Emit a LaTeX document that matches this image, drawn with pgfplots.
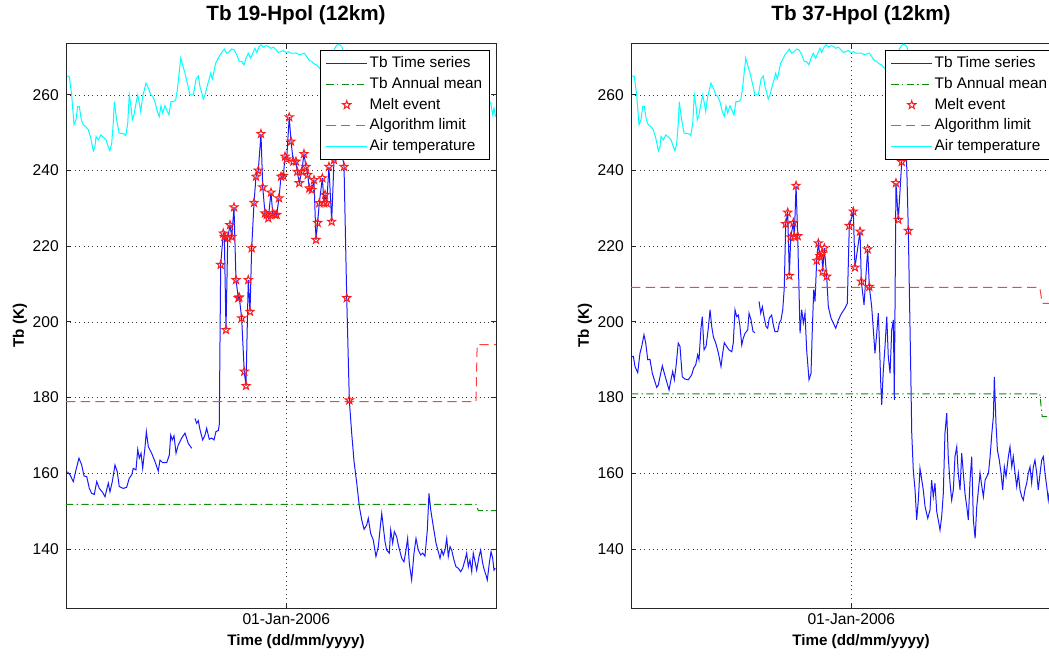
\documentclass[border=0pt]{standalone}
\usepackage{fontspec}
\setmainfont{Liberation Sans}
\usepackage{pgfplots}
\pgfplotsset{compat=1.18}

% five-pointed star outline used for melt events
\pgfdeclareplotmark{pentagram}{%
  \pgfpathmoveto{\pgfpointpolar{90}{\pgfplotmarksize}}%
  \pgfpathlineto{\pgfpointpolar{126}{0.4\pgfplotmarksize}}%
  \pgfpathlineto{\pgfpointpolar{162}{\pgfplotmarksize}}%
  \pgfpathlineto{\pgfpointpolar{198}{0.4\pgfplotmarksize}}%
  \pgfpathlineto{\pgfpointpolar{234}{\pgfplotmarksize}}%
  \pgfpathlineto{\pgfpointpolar{270}{0.4\pgfplotmarksize}}%
  \pgfpathlineto{\pgfpointpolar{306}{\pgfplotmarksize}}%
  \pgfpathlineto{\pgfpointpolar{342}{0.4\pgfplotmarksize}}%
  \pgfpathlineto{\pgfpointpolar{18}{\pgfplotmarksize}}%
  \pgfpathlineto{\pgfpointpolar{54}{0.4\pgfplotmarksize}}%
  \pgfpathclose\pgfusepathqstroke}

\definecolor{mgreen}{rgb}{0.05,0.55,0.05}
\definecolor{mblue}{rgb}{0.1,0.1,1}
\definecolor{mred}{rgb}{1,0.25,0.25}
\definecolor{mstar}{rgb}{1,0.1,0.1}
\definecolor{mcyan}{rgb}{0,1,1}
\newcommand\ticksize{\fontsize{11.7}{14}\selectfont}
\newcommand\titlesize{\fontsize{15.5}{18}\selectfont\bfseries}
\newcommand\labelsize{\fontsize{11.4}{14}\selectfont\bfseries}
\newcommand\legsize{\fontsize{11.5}{14}\selectfont}

% legend sample: a stroked segment in the given colour and dash
\newcommand\legline[2]{%
  \pgfsetstrokecolor{#1}\pgfsetlinewidth{0.9pt}#2%
  \pgfpathmoveto{\pgfpoint{0pt}{0pt}}\pgfpathlineto{\pgfpoint{30.5pt}{0pt}}\pgfusepath{stroke}}

\pgfplotsset{
  mlab/.style={
    scale only axis, width=322.5pt, height=423.75pt,
    xmin=0, xmax=365, ymin=124.4, ymax=273.7,
    xtick={187}, xticklabels={01-Jan-2006},
    ytick={140,160,...,260},
    tick align=inside, xtick pos=both, ytick pos=both,
    major tick length=4pt,
    grid=major,
    grid style={black!80, line width=0.5pt, dash pattern=on 0.7pt off 2.6pt},
    axis line style={black!85, line width=0.6pt},
    tick style={black!85, line width=0.6pt},
    tick label style={font=\ticksize},
    /pgf/number format/assume math mode=true,
    yticklabel style={anchor=east, inner sep=0pt, xshift=-5.25pt},
    xticklabel style={anchor=base, inner sep=0pt, yshift=-12.75pt},
    title style={font=\titlesize, at={(axis description cs:0.5349,1)}, anchor=base, yshift=10.5pt, inner sep=0pt},
    xlabel style={font=\labelsize, at={(axis description cs:0.5349,0)}, anchor=base, yshift=-28.5pt, inner sep=0pt},
    ylabel style={font=\labelsize, at={(axis description cs:-0.107,0.5)}, anchor=center, inner sep=0pt},
    xlabel={Time (dd/mm/yyyy)}, ylabel={Tb (K)},
    legend cell align=left,
    legend style={at={(1,1)}, anchor=north east, xshift=-4.5pt, yshift=-5.25pt,
      draw=black, line width=0.7pt, fill=white, font=\legsize, inner xsep=4pt, inner ysep=4.2pt,
      row sep=4.6pt,
      nodes={inner ysep=0pt, inner xsep=1.5pt, text height=8.6pt, text depth=2.4pt}},
    unbounded coords=jump,
  },
  tbline/.style={draw=mblue, line width=0.75pt, mark=none,
    legend image code/.code={\legline{mblue}{}}},
  meanline/.style={draw=mgreen, line width=0.75pt, dash pattern=on 5.5pt off 2.5pt on 1pt off 2.5pt,
    legend image code/.code={\legline{mgreen}{\pgfsetdash{{5.5pt}{2.5pt}{1pt}{2.5pt}}{0pt}}}},
  meltmark/.style={only marks, mark=pentagram, mark size=3.2pt, mark options={draw=mstar, solid, line width=0.75pt},
    legend image code/.code={\draw[mstar, line width=0.75pt] plot[mark=pentagram, mark size=3.2pt] coordinates {(15.25pt,0pt)};}},
  limitline/.style={draw=mred, line width=0.75pt, dash pattern=on 7pt off 4pt,
    legend image code/.code={\legline{mred}{\pgfsetdash{{7pt}{4pt}}{0pt}}}},
  airline/.style={draw=mcyan, line width=0.75pt,
    legend image code/.code={\legline{mcyan}{}}},
}

\begin{document}
\begin{tikzpicture}

% ---------------- 19 GHz, H polarisation ----------------
\begin{axis}[mlab, at={(49.5pt,36pt)}, anchor=south west, title={Tb 19-Hpol (12km)}]
\addplot[tbline] coordinates {
(1.1,160.4) (3.4,159.6) (6.2,157.8) (8.5,160.9) (11.0,164.0) (13.3,162.2) (15.3,159.3) (17.6,159.1)
(19.8,156.0) (21.8,154.7) (24.0,154.4) (26.1,157.8) (28.3,156.0) (31.2,154.9) (33.1,153.8) (35.9,157.4)
(37.3,155.1) (39.3,157.8) (41.6,162.2) (43.5,160.4) (45.2,156.5) (48.6,156.0) (51.5,156.3) (53.7,158.7)
(55.8,159.6) (57.1,161.3) (59.4,160.9) (60.9,166.3) (62.2,164.0) (63.7,165.3) (65.1,161.3) (67.1,167.0)
(68.2,171.0) (69.9,167.0) (72.7,165.3) (75.5,163.1) (78.3,160.6) (79.8,163.5) (82.1,162.8) (85.5,162.8)
(87.7,164.8) (88.9,170.1) (90.2,168.8) (91.7,169.9) (93.4,165.3) (95.3,167.5) (98.2,169.3) (101.0,170.6)
(103.8,167.9) (106.7,166.6) (108.0,nan) (109.5,174.5) (110.9,173.2) (112.3,173.9) (113.7,171.6) (116.0,168.8)
(118.0,170.1) (119.4,171.9) (121.6,169.0) (123.7,169.3) (125.6,168.8) (127.3,171.0) (129.3,171.3) (130.1,172.8)
(131.3,215.1) (133.5,223.4) (134.4,222.5) (135.8,197.9) (137.3,222.1) (139.2,225.6) (140.7,222.5) (142.6,230.3)
(144.3,211.1) (146.3,206.3) (147.1,206.5) (149.1,201.0) (151.3,186.9) (152.8,183.1) (154.7,211.1) (156.2,202.7)
(157.6,219.5) (159.6,231.5) (161.3,238.4) (163.2,240.0) (165.5,249.7) (167.0,235.6) (168.9,228.7) (170.4,228.3)
(171.7,227.4) (174.0,234.2) (175.5,228.7) (177.4,228.3) (178.8,228.3) (180.8,232.7) (182.5,238.4) (184.5,238.6)
(185.9,243.7) (187.3,243.0) (189.5,254.1) (191.0,247.7) (192.9,242.4) (195.2,242.4) (196.3,239.7) (198.0,236.7)
(200.1,239.7) (202.0,244.4) (203.7,241.0) (205.2,238.9) (206.5,235.3) (208.6,234.9) (210.5,237.5) (212.2,221.7)
(213.6,226.2) (215.0,231.4) (217.6,238.0) (219.0,231.4) (219.9,233.6) (221.3,231.4) (223.2,241.0) (225.5,226.5)
(227.5,242.8) (231.3,248.1) (233.4,246.8) (236.0,241.0) (238.3,206.3) (240.5,179.3)
(242.5,170.6) (244.5,163.1) (246.8,157.4) (249.0,151.2) (251.0,147.7) (253.0,145.2) (255.2,146.3) (256.6,148.1)
(258.6,144.1) (260.8,142.4) (263.1,138.0) (265.1,140.6) (266.5,145.0) (268.0,149.4) (269.3,145.9) (270.8,141.9)
(272.2,139.7) (274.4,138.9) (275.6,145.0) (277.3,141.5) (278.7,144.6) (280.7,143.2) (282.1,141.0) (283.5,139.3)
(285.0,137.5) (286.9,136.6) (288.6,139.7) (290.0,142.8) (291.4,136.2) (293.4,131.8) (295.4,138.9) (297.1,142.8)
(299.0,139.7) (301.1,138.4) (302.8,138.9) (304.7,138.1) (306.7,145.0) (308.1,154.7) (309.6,150.3) (311.8,145.9)
(314.1,141.5) (316.0,139.3) (317.5,137.5) (318.9,139.7) (320.3,138.4) (321.7,139.7) (323.2,142.8) (324.5,138.0)
(326.0,140.6) (327.4,139.7) (329.3,137.1) (331.0,135.3) (333.0,134.9) (335.0,134.0) (336.7,134.9) (338.7,137.1)
(340.1,138.9) (341.5,135.3) (342.9,137.1) (344.4,134.0) (345.7,138.9) (347.2,136.6) (348.6,134.4) (350.6,138.0)
(352.0,139.7) (353.7,136.2) (355.1,134.4) (356.5,133.1) (357.6,131.8) (359.3,136.2) (360.8,139.3) (362.2,137.5)
(363.3,134.4) (364.4,134.9)
};
\addlegendentry{Tb Time series}
\addplot[meanline] coordinates {(0,151.8) (348,151.8) (350,150.1) (365,150.1)};
\addlegendentry{Tb Annual mean}
\addplot[meltmark] coordinates {
(131.3,215.1) (133.5,223.4) (134.4,222.5) (135.8,197.9) (137.3,222.1) (139.2,225.6) (140.7,222.5) (142.6,230.3)
(144.3,211.1) (146.3,206.3) (147.1,206.5) (149.1,201.0) (151.3,186.9) (152.8,183.1) (154.7,211.1) (156.2,202.7)
(157.6,219.5) (159.6,231.5) (161.3,238.4) (163.2,240.0) (165.5,249.7) (167.0,235.6) (168.9,228.7) (170.4,228.3)
(171.7,227.4) (174.0,234.2) (175.5,228.7) (177.4,228.3) (178.8,228.3) (180.8,232.7) (182.5,238.4) (184.5,238.6)
(185.9,243.7) (187.3,243.0) (189.5,254.1) (191.0,247.7) (192.9,242.4) (195.2,242.4) (196.3,239.7) (198.0,236.7)
(200.1,239.7) (202.0,244.4) (203.7,241.0) (205.2,238.9) (206.5,235.3) (208.6,234.9) (210.5,237.5) (212.2,221.7)
(213.6,226.2) (215.0,231.4) (217.6,238.0) (219.0,231.4) (219.9,233.6) (221.3,231.4) (223.2,241.0) (225.5,226.5)
(227.5,242.8) (231.3,248.1) (233.4,246.8) (236.0,241.0) (238.3,206.3) (240.5,179.3)
};
\addlegendentry{Melt event}
\addplot[limitline] coordinates {(0,178.9) (348,178.9) (349,194.0) (365,194.0)};
\addlegendentry{Algorithm limit}
\addplot[airline] coordinates {
(1.1,265.0) (2.8,264.8) (4.8,260.0) (6.8,252.1) (8.5,253.4) (9.9,256.9) (11.3,256.9) (13.0,253.4) (14.7,252.1)
(17.0,251.5) (18.9,250.8) (21.0,248.6) (23.2,245.2) (24.6,246.3) (25.5,249.0) (27.4,248.1) (29.5,249.4)
(31.7,248.8) (34.0,248.1) (35.9,246.3) (37.3,245.2) (38.8,247.2) (40.2,252.9) (41.0,258.2) (43.0,253.4)
(45.0,249.9) (49.2,249.7) (50.7,249.2) (52.4,252.5) (53.7,260.0) (55.2,256.9) (56.3,253.4) (57.7,254.7)
(59.2,257.4) (60.9,260.0) (62.2,257.8) (63.4,255.6) (65.1,259.6) (66.5,261.3) (67.9,263.1) (69.9,261.8)
(71.9,260.0) (73.6,259.6) (75.5,258.2) (77.5,255.6) (79.2,254.3) (80.6,257.1) (82.1,255.2) (84.0,257.1)
(85.5,256.0) (87.4,254.7) (89.1,258.2) (91.1,258.2) (93.1,258.7) (94.5,261.3) (96.2,266.2) (97.4,269.7)
(99.0,267.9) (101.0,265.7) (103.0,263.1) (105.2,260.0) (108.1,260.0) (110.4,264.2) (112.3,265.0) (113.7,262.2)
(115.2,260.5) (116.5,258.9) (118.0,260.0) (119.4,261.8) (121.4,264.0) (122.8,265.7) (124.2,264.2) (125.6,266.2)
(127.1,268.4) (128.8,269.4) (130.7,270.6) (132.7,271.4) (134.4,272.1) (136.4,271.0) (138.6,271.4) (140.6,272.1)
(142.6,271.9) (144.9,270.6) (147.1,268.8) (149.1,268.8) (151.1,267.9) (152.8,269.7) (154.7,271.0) (156.8,269.7)
(158.5,271.0) (160.4,272.3) (161.9,271.2) (163.8,272.6) (165.5,273.2) (167.5,272.6) (169.8,273.0) (171.7,272.8)
(173.8,272.3) (176.0,272.6) (178.3,271.9) (180.2,271.2) (182.2,271.4) (184.4,271.7) (186.7,271.2) (188.7,271.4)
(190.7,271.0) (192.9,271.0) (195.8,271.0) (198.0,270.6) (200.1,270.8) (202.3,271.0) (204.3,270.1) (206.5,269.1)
(208.6,268.8) (210.5,268.2) (212.8,267.9) (215.0,267.1) (218.0,266.0) (221.0,267.5) (224.0,270.0) (227.0,271.5)
(229.5,273.0) (231.5,273.4) (234.0,272.8) (236.0,271.0) (245.0,268.0) (260.0,266.5) (275.0,264.0) (290.0,265.0)
(305.0,262.0) (320.0,260.0) (335.0,258.5) (350.0,257.0) (357.8,258.7) (360.5,257.9) (362.2,254.7) (363.3,256.5)
(364.6,254.2)
};
\addlegendentry{Air temperature}
\end{axis}

% ---------------- 37 GHz, H polarisation ----------------
\begin{axis}[mlab, at={(473.25pt,36pt)}, anchor=south west, title={Tb 37-Hpol (12km)}]
\addplot[tbline] coordinates {
(0.6,190.8) (2.0,190.9) (3.4,188.2) (5.7,186.6) (7.6,191.7) (9.1,193.5) (11.0,196.6) (12.5,194.4)
(14.2,190.0) (16.1,190.1) (18.1,186.4) (19.8,184.7) (21.8,182.7) (23.2,183.3) (24.6,185.5) (26.6,188.4)
(28.3,186.4) (30.3,184.2) (32.3,182.0) (33.9,184.7) (35.4,186.9) (36.8,184.7) (38.2,188.2) (40.1,194.4)
(41.6,193.5) (43.5,185.5) (45.8,184.9) (48.6,184.7) (51.5,186.0) (53.2,187.8) (54.9,188.6) (56.6,191.3)
(57.7,190.0) (59.4,198.3) (60.5,201.4) (62.0,192.6) (63.7,193.5) (65.6,198.3) (67.1,203.2) (68.5,198.8)
(69.9,196.1) (71.9,194.4) (74.1,191.9) (76.4,188.2) (77.8,191.7) (79.2,194.5) (81.2,193.5) (83.2,192.6)
(85.5,192.1) (86.8,194.4) (88.3,203.2) (89.7,201.4) (91.1,201.8) (92.5,198.8) (94.0,193.9) (95.3,195.7)
(96.8,197.0) (99.1,197.9) (100.2,202.3) (101.9,200.5) (103.6,197.4) (105.3,197.2) (106.5,nan)
(108.7,205.4) (110.1,202.3) (111.5,204.0) (112.9,201.4) (114.6,198.8) (116.0,198.3) (117.4,201.0) (119.4,201.8)
(120.8,199.2) (122.2,197.4) (124.5,197.4) (125.9,199.7) (127.3,200.5) (128.8,203.2) (130.1,209.0)
(131.3,225.9) (133.0,228.9) (134.4,212.2) (135.6,222.4) (137.8,226.2) (138.6,222.5) (140.1,236.0) (141.5,222.7)
(143.5,197.0) (144.9,203.2) (146.3,199.7) (147.7,202.3) (149.1,192.6) (151.1,184.7) (152.8,186.4) (153.9,197.9)
(155.1,208.5) (156.2,205.4) (157.6,216.2) (159.0,220.8) (160.4,217.4) (161.9,218.0) (162.7,213.3) (164.1,219.5)
(166.1,212.0) (167.5,204.0) (169.8,201.0) (171.7,199.7) (173.8,198.3) (176.0,200.5) (178.8,202.3) (181.6,203.6)
(183.6,204.9) (185.3,225.4) (188.7,229.2) (190.1,214.4) (194.4,223.9) (195.5,210.7) (197.8,204.5) (200.9,219.2)
(202.3,209.3) (204.3,204.0) (205.7,197.9) (207.1,191.7) (208.6,197.0) (209.9,202.3) (210.8,195.2) (212.0,183.8)
(212.8,178.1) (214.2,187.3) (215.6,193.5) (217.1,201.4) (218.4,190.8) (219.9,186.4) (221.3,197.9) (222.7,200.5)
(223.5,179.4) (224.9,236.7) (226.9,227.0) (229.8,242.3) (231.7,248.1) (233.7,245.4) (235.4,224.1) (237.4,188.2)
(238.3,170.6) (239.6,160.9) (241.1,155.6) (242.5,147.7) (243.9,152.9) (245.3,161.3) (246.8,158.2) (248.1,155.6)
(249.6,151.2) (251.9,148.1) (253.8,150.3) (255.2,158.2) (256.6,153.8) (258.0,157.4) (259.5,149.9) (260.8,147.7)
(262.3,145.0) (263.7,148.5) (265.1,154.7) (266.5,170.6) (268.0,175.9) (269.3,164.4) (270.8,157.4) (272.2,152.9)
(273.6,155.6) (275.0,164.4) (276.5,167.0) (277.8,160.0) (279.3,155.6) (280.7,165.3) (282.1,160.0) (283.5,154.7)
(285.0,151.2) (286.3,147.7) (287.8,158.2) (289.2,164.4) (290.6,147.7) (292.1,142.8) (293.5,151.2) (294.9,155.6)
(296.3,160.0) (297.8,156.5) (299.1,153.8) (300.6,158.2) (302.0,159.1) (303.4,160.0) (304.8,164.4) (306.3,170.6)
(307.6,175.0) (308.4,185.5) (309.8,173.2) (311.0,166.2) (312.6,163.5) (314.1,160.0) (315.5,155.6) (316.9,161.7)
(318.3,159.1) (320.3,164.4) (321.7,167.0) (323.2,161.7) (324.5,164.4) (326.0,160.0) (327.4,156.5) (328.8,160.0)
(330.2,155.6) (331.7,153.8) (333.0,152.9) (334.4,155.6) (335.9,157.4) (337.2,160.0) (338.7,161.7) (340.1,157.4)
(341.5,161.7) (342.9,163.5) (344.4,160.0) (345.7,155.6) (347.2,160.0) (348.6,163.5) (350.0,164.4) (351.4,160.0)
(352.9,156.5) (354.2,152.9) (356.5,158.2) (359.1,160.9) (361.6,155.6) (364.2,159.6)
};
\addlegendentry{Tb Time series}
\addplot[meanline] coordinates {(0,181.0) (347,181.0) (349,175.0) (365,175.0)};
\addlegendentry{Tb Annual mean}
\addplot[meltmark] coordinates {
(131.3,225.9) (133.0,228.9) (134.4,212.2) (135.6,222.4) (137.8,226.2) (138.6,222.5) (140.1,236.0) (141.5,222.7)
(157.6,216.2) (159.0,220.8) (160.4,217.4) (161.9,218.0) (162.7,213.3) (164.1,219.5) (166.1,212.0)
(185.3,225.4) (188.7,229.2) (190.1,214.4) (194.4,223.9) (195.5,210.7) (200.9,219.2) (202.3,209.3)
(224.9,236.7) (226.9,227.0) (229.8,242.3) (231.7,248.1) (233.7,245.4) (235.4,224.1)
};
\addlegendentry{Melt event}
\addplot[limitline] coordinates {(0,209.1) (347,209.1) (349,204.9) (365,204.9)};
\addlegendentry{Algorithm limit}
\addplot[airline] coordinates {
(1.1,265.0) (2.8,264.8) (4.8,260.0) (6.8,252.1) (8.5,253.4) (9.9,256.9) (11.3,256.9) (13.0,253.4) (14.7,252.1)
(17.0,251.5) (18.9,250.8) (21.0,248.6) (23.2,245.2) (24.6,246.3) (25.5,249.0) (27.4,248.1) (29.5,249.4)
(31.7,248.8) (34.0,248.1) (35.9,246.3) (37.3,245.2) (38.8,247.2) (40.2,252.9) (41.0,258.2) (43.0,253.4)
(45.0,249.9) (49.2,249.7) (50.7,249.2) (52.4,252.5) (53.7,260.0) (55.2,256.9) (56.3,253.4) (57.7,254.7)
(59.2,257.4) (60.9,260.0) (62.2,257.8) (63.4,255.6) (65.1,259.6) (66.5,261.3) (67.9,263.1) (69.9,261.8)
(71.9,260.0) (73.6,259.6) (75.5,258.2) (77.5,255.6) (79.2,254.3) (80.6,257.1) (82.1,255.2) (84.0,257.1)
(85.5,256.0) (87.4,254.7) (89.1,258.2) (91.1,258.2) (93.1,258.7) (94.5,261.3) (96.2,266.2) (97.4,269.7)
(99.0,267.9) (101.0,265.7) (103.0,263.1) (105.2,260.0) (108.1,260.0) (110.4,264.2) (112.3,265.0) (113.7,262.2)
(115.2,260.5) (116.5,258.9) (118.0,260.0) (119.4,261.8) (121.4,264.0) (122.8,265.7) (124.2,264.2) (125.6,266.2)
(127.1,268.4) (128.8,269.4) (130.7,270.6) (132.7,271.4) (134.4,272.1) (136.4,271.0) (138.6,271.4) (140.6,272.1)
(142.6,271.9) (144.9,270.6) (147.1,268.8) (149.1,268.8) (151.1,267.9) (152.8,269.7) (154.7,271.0) (156.8,269.7)
(158.5,271.0) (160.4,272.3) (161.9,271.2) (163.8,272.6) (165.5,273.2) (167.5,272.6) (169.8,273.0) (171.7,272.8)
(173.8,272.3) (176.0,272.6) (178.3,271.9) (180.2,271.2) (182.2,271.4) (184.4,271.7) (186.7,271.2) (188.7,271.4)
(190.7,271.0) (192.9,271.0) (195.8,271.0) (198.0,270.6) (200.1,270.8) (202.3,271.0) (204.3,270.1) (206.5,269.1)
(208.6,268.8) (210.5,268.2) (212.8,267.9) (215.0,267.1) (218.0,266.0) (221.0,267.5) (224.0,270.0) (227.0,271.5)
(229.5,273.0) (231.5,273.4) (234.0,272.8) (236.0,271.0) (245.0,268.0) (260.0,266.5) (275.0,264.0) (290.0,265.0)
(305.0,262.0) (320.0,260.0) (335.0,258.5) (350.0,257.0) (357.8,258.7) (360.5,257.9) (362.2,254.7) (363.3,256.5)
(364.6,254.2)
};
\addlegendentry{Air temperature}
\end{axis}

\pgfresetboundingbox
\path[use as bounding box] (0pt,0pt) rectangle (786.75pt,492pt);
\end{tikzpicture}
\end{document}
